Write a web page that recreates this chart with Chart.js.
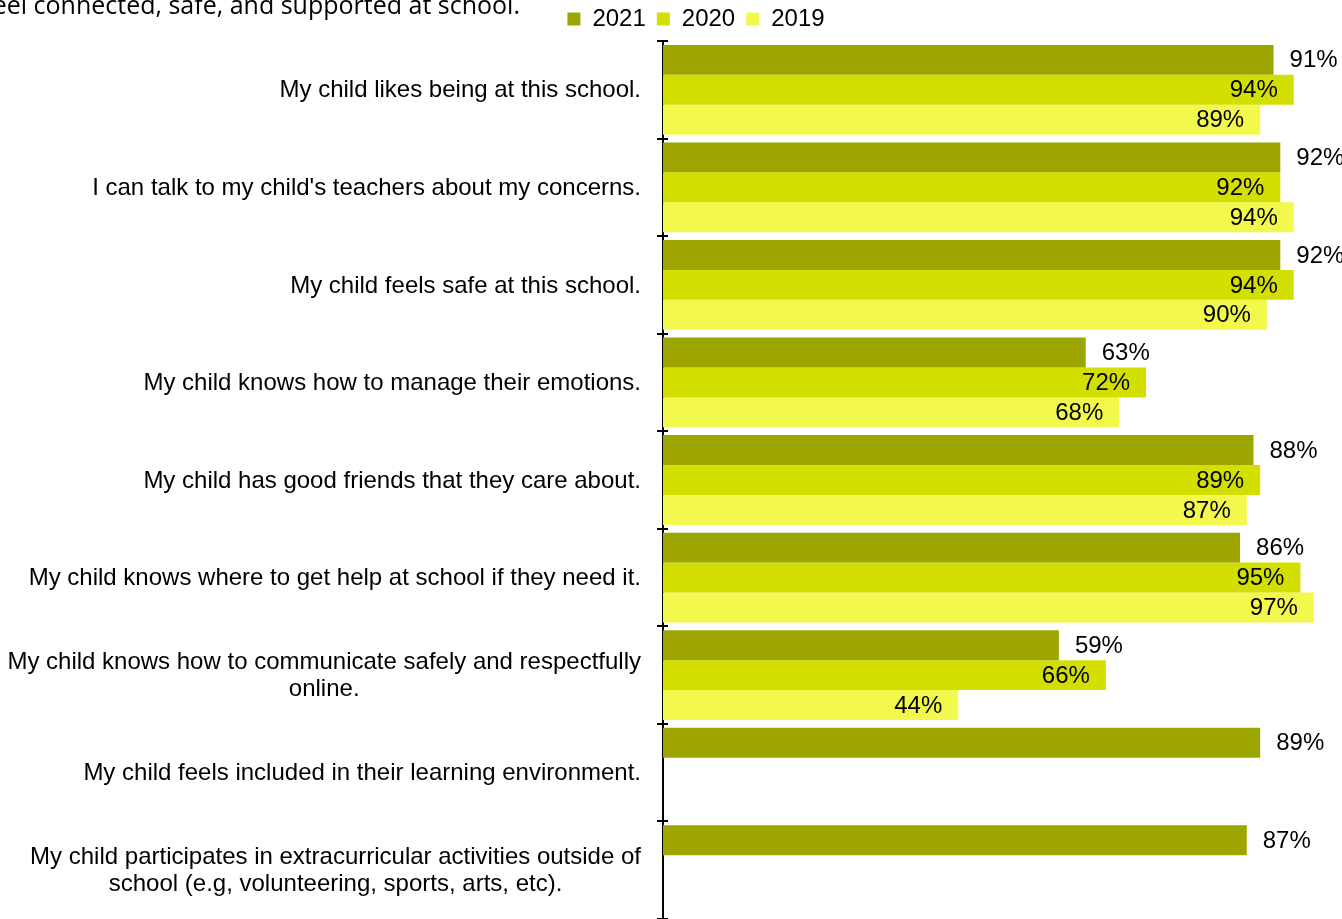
<!DOCTYPE html>
<html>
<head>
<meta charset="utf-8">
<script src="https://cdn.jsdelivr.net/npm/chart.js@4.4.1/dist/chart.umd.min.js"></script>
<style>
  html, body { margin: 0; padding: 0; background: #fff; overflow: hidden; }
  #wrap { position: relative; width: 1342px; height: 919px; }
  #title {
    position: absolute; right: 822px; top: -8px; white-space: nowrap;
    font-family: "Open Sans", sans-serif; font-size: 25px; line-height: 24px; color: #000;
  }
</style>
</head>
<body>
<div id="wrap">
  <div id="title">Parents report that their children feel connected, safe, and supported at school.</div>
  <canvas id="chart"></canvas>
</div>
<script>
// Categories (multi-line ones split into lines)
const categories = [
  ['My child likes being at this school.'],
  ["I can talk to my child's teachers about my concerns."],
  ['My child feels safe at this school.'],
  ['My child knows how to manage their emotions.'],
  ['My child has good friends that they care about.'],
  ['My child knows where to get help at school if they need it.'],
  ['My child knows how to communicate safely and respectfully', 'online.'],
  ['My child feels included in their learning environment.'],
  ['My child participates in extracurricular activities outside of', 'school (e.g, volunteering, sports, arts, etc).']
];

// Series values (%)
const values2021 = [91, 92, 92, 63, 88, 86, 59, 89, 87];
const values2020 = [94, 92, 94, 72, 89, 95, 66, null, null];
const values2019 = [89, 94, 90, 68, 87, 97, 44, null, null];

const FONT = '"Liberation Sans", Arial, sans-serif';

// value labels: 2021 outside the bar end, the others inside
const valueLabels = {
  id: 'valueLabels',
  afterDatasetsDraw(chart) {
    const ctx = chart.ctx;
    ctx.save();
    ctx.font = '24px ' + FONT;
    ctx.fillStyle = '#000';
    ctx.textBaseline = 'middle';
    chart.data.datasets.forEach((ds, di) => {
      const meta = chart.getDatasetMeta(di);
      meta.data.forEach((bar, i) => {
        const v = ds.data[i];
        if (v == null) return;
        if (di === 0) {
          ctx.textAlign = 'left';
          ctx.fillText(v + '%', bar.x + 16, bar.y + 1);
        } else {
          ctx.textAlign = 'right';
          ctx.fillText(v + '%', bar.x - 16, bar.y + 1);
        }
      });
    });
    ctx.restore();
  }
};

// category labels: right edge next to the axis, lines centered within each block
const categoryLabels = {
  id: 'categoryLabels',
  afterDraw(chart) {
    const ctx = chart.ctx;
    const yScale = chart.scales.y;
    const right = chart.chartArea.left - 22;
    ctx.save();
    ctx.font = '24px ' + FONT;
    ctx.fillStyle = '#000';
    ctx.textBaseline = 'middle';
    ctx.textAlign = 'center';
    const lh = 27;
    categories.forEach((lines, i) => {
      const y = yScale.getPixelForValue(i);
      const w = Math.max(...lines.map(l => ctx.measureText(l).width));
      const cx = right - w / 2;
      lines.forEach((l, k) => {
        ctx.fillText(l, cx, y + (k - (lines.length - 1) / 2) * lh + 1);
      });
    });
    // small tick stubs on the plot side of the axis
    ctx.strokeStyle = '#000';
    ctx.lineWidth = 2;
    const x0 = chart.chartArea.left;
    for (let i = 0; i <= categories.length; i++) {
      const y = Math.round(yScale.getPixelForValue(i - 0.5));
      ctx.beginPath();
      ctx.moveTo(x0, y);
      ctx.lineTo(x0 + 5, y);
      ctx.stroke();
    }
    ctx.restore();
  }
};

new Chart(document.getElementById('chart'), {
  type: 'bar',
  data: {
    labels: categories,
    datasets: [
      { label: '2021', data: values2021, backgroundColor: '#9DA600', borderWidth: 0 },
      { label: '2020', data: values2020, backgroundColor: '#D2DF00', borderWidth: 0 },
      { label: '2019', data: values2019, backgroundColor: '#F3F84C', borderWidth: 0 }
    ]
  },
  options: {
    indexAxis: 'y',
    responsive: true,
    maintainAspectRatio: false,
    animation: false,
    layout: { padding: { left: 58, right: 8, top: -4, bottom: 0 } },
    datasets: { bar: { categoryPercentage: 0.92, barPercentage: 1.0 } },
    scales: {
      x: { display: false, min: 0, max: 100 },
      y: {
        ticks: { display: false },
        grid: { drawOnChartArea: false, drawTicks: true, tickLength: 6, color: '#000', lineWidth: 2, offset: true },
        border: { color: '#000', width: 2 },
        afterFit(scale) { scale.width = 605; }
      }
    },
    plugins: {
      legend: {
        position: 'top',
        labels: {
          font: { family: FONT, size: 24 },
          color: '#000',
          boxWidth: 13,
          boxHeight: 13,
          padding: 11
        }
      },
      tooltip: { enabled: false }
    }
  },
  plugins: [valueLabels, categoryLabels]
});
</script>
</body>
</html>
